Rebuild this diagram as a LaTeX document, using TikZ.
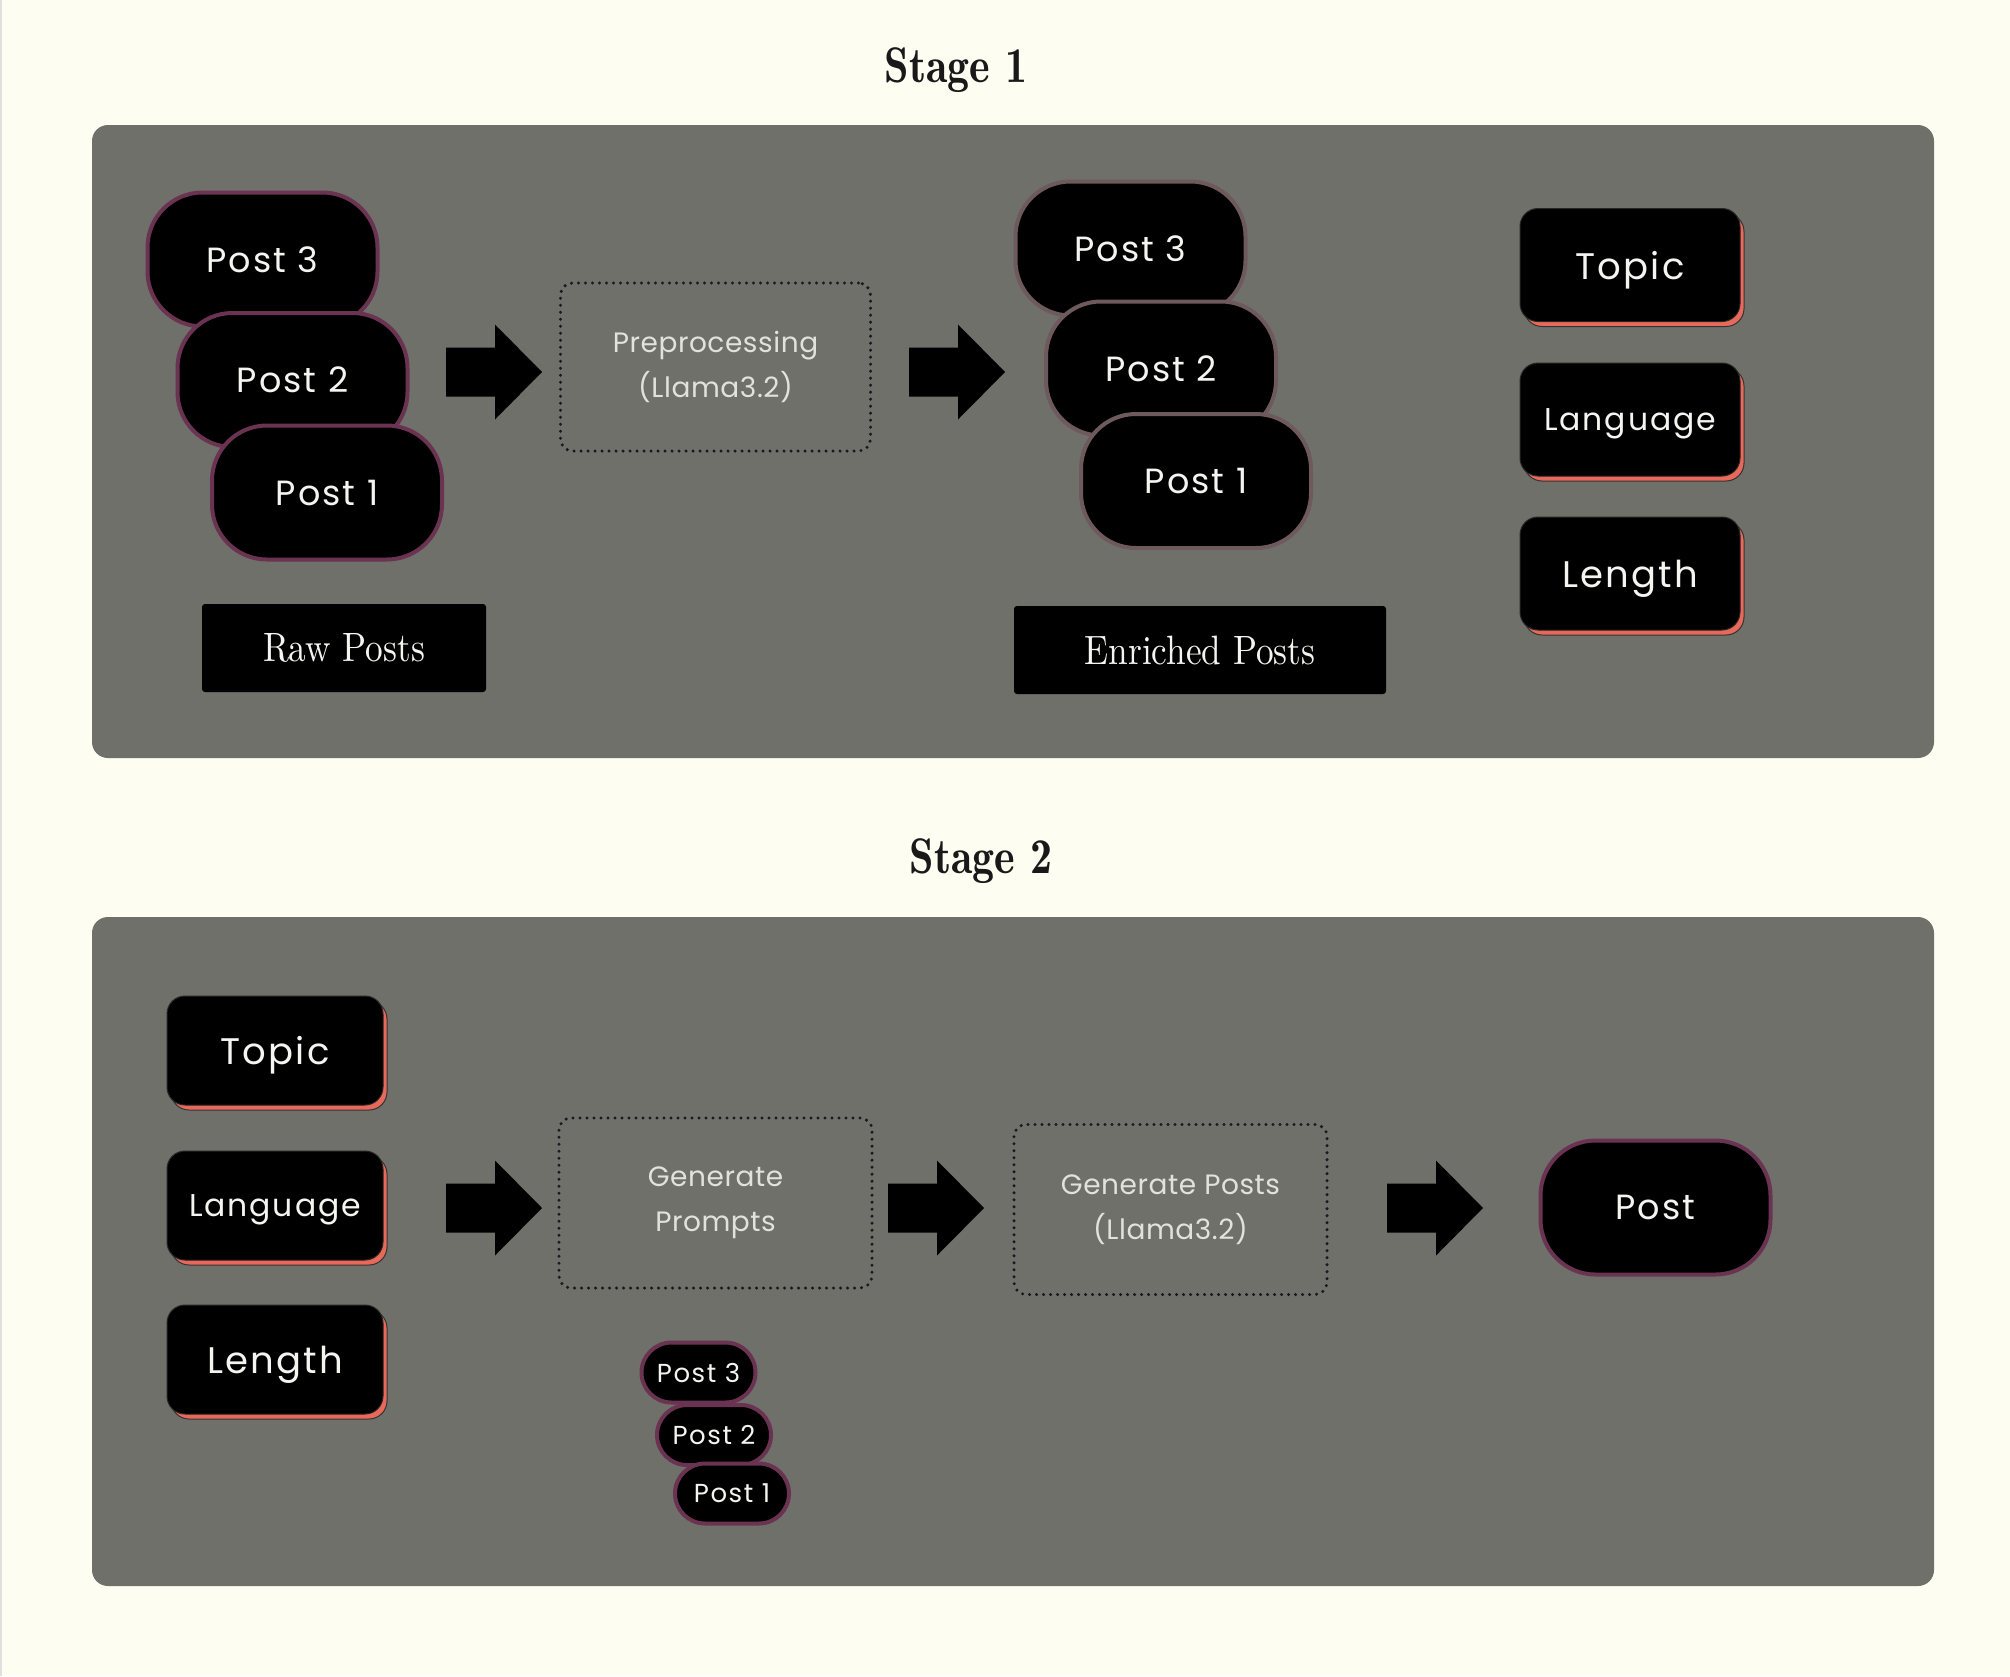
\documentclass[tikz,border=0pt]{standalone}
\usepackage{fontspec}
\usetikzlibrary{shadows}
\newfontfamily\labd{Poppins}[LetterSpace=2]
\newfontfamily\labr{Poppins}[LetterSpace=6]
\newfontfamily\serifc{lmroman10-regular}[Extension=.otf,FakeStretch=0.86]
\newfontfamily\titlef{lmromandemi10-regular}[Extension=.otf,FakeStretch=0.88]
\definecolor{bgc}{HTML}{FDFDF2}
\definecolor{panel}{HTML}{6F706A}
\definecolor{maroonb}{HTML}{6B3352}
\definecolor{brownb}{HTML}{6E5A5C}
\definecolor{salm}{HTML}{E8695A}
\definecolor{txt}{HTML}{F4F4F0}
\definecolor{dtxt}{HTML}{E2E2DC}
\begin{document}
\begin{tikzpicture}[x=1pt,y=-1pt,
  post/.style={draw=maroonb, fill=black, line width=4pt, rounded corners=55pt,
    minimum width=230pt, minimum height=134pt, text=txt, inner sep=0pt,
    text depth=0pt, font=\labr\fontsize{35}{44}\selectfont},
  epost/.style={post, draw=brownb},
  spost/.style={post, rounded corners=30pt, minimum width=114pt, minimum height=60pt,
    font=\labr\fontsize{26}{32}\selectfont},
  attr/.style={fill=black, draw=black!85, line width=1pt, rounded corners=18pt,
    text=txt, minimum width=220pt, minimum height=113pt, inner sep=0pt,
    text depth=0pt,
    drop shadow={shadow xshift=4pt, shadow yshift=-5pt, fill=salm, opacity=1,
      draw=black!80, line width=1pt}},
  attrb/.style={attr, minimum width=216pt, minimum height=109pt},
  big/.style={font=\labr\fontsize{37}{46}\selectfont},
  mid/.style={font=\labr\fontsize{31.5}{40}\selectfont},
  dbox/.style={draw=black!90, line width=3.4pt, dash pattern=on 0pt off 7pt,
    line cap=round, rounded corners=12pt, minimum width=310pt, minimum height=168pt,
    text=dtxt, align=center, inner sep=0pt, font=\labd\fontsize{28}{45}\selectfont},
  capbox/.style={fill=black, rounded corners=3pt, text=txt, inner sep=0pt,
    minimum height=88pt, font=\serifc\fontsize{41}{48}\selectfont},
  ttl/.style={font=\titlef\fontsize{50}{60}\selectfont, text=black!90, anchor=base},
  blockarrow/.pic={\fill[black] (0,-24.5) -- (49,-24.5) -- (49,-47.5) -- (96,0)
    -- (49,47.5) -- (49,24.5) -- (0,24.5) -- cycle;}
]
\useasboundingbox (0,0) rectangle (2010,1676);
\fill[bgc] (0,0) rectangle (2010,1676);
\fill[black!12] (0,0) rectangle (2,1676);

% ---------- Stage 1 ----------
\node[ttl] (t1) at (956,82) {Stage 1};
\fill[panel, rounded corners=16pt] (92,125) rectangle (1934,758);

\node[post] (r3) at (262.5,259.5) {Post 3};
\node[post] (r2) at (292.5,380) {Post 2};
\node[post] (r1) at (327,492.5) {Post 1};
\node[capbox, minimum width=284pt] (raw) at (344,648) {Raw Posts};

\pic at (446,372) {blockarrow};
\node[dbox] (pre) at (715.5,367) {Preprocessing\\(Llama3.2)};
\pic at (909,372) {blockarrow};

\node[epost] (e3) at (1130.5,248.5) {Post 3};
\node[epost] (e2) at (1161,368.5) {Post 2};
\node[epost] (e1) at (1196,481) {Post 1};
\node[capbox, minimum width=372pt] (enr) at (1200,650) {Enriched Posts};

\node[attr, big] (topic1) at (1630,265) {Topic};
\node[attr, mid] (lang1) at (1630,419.5) {Language};
\node[attr, big] (len1) at (1630,573.5) {Length};

% ---------- Stage 2 ----------
\node[ttl] (t2) at (981,873) {Stage 2};
\fill[panel, rounded corners=16pt] (92,917) rectangle (1934,1586);

\node[attrb, big] (topic2) at (275,1050.5) {Topic};
\node[attrb, mid] (lang2) at (275,1205.5) {Language};
\node[attrb, big] (len2) at (275,1359.5) {Length};

\pic at (446,1208) {blockarrow};
\node[dbox, minimum width=313pt, minimum height=170pt] (gp) at (715.5,1203) {Generate\\Prompts};
\pic at (888,1208) {blockarrow};
\node[dbox, minimum width=313pt, minimum height=170pt] (gpost) at (1170.5,1209.5) {Generate Posts\\(Llama3.2)};
\pic at (1387,1208) {blockarrow};
\node[post] (out) at (1655.5,1207.5) {Post};

\node[spost] (s3) at (698.5,1372.5) {Post 3};
\node[spost] (s2) at (714,1435) {Post 2};
\node[spost] (s1) at (732,1493.5) {Post 1};
\end{tikzpicture}
\end{document}
